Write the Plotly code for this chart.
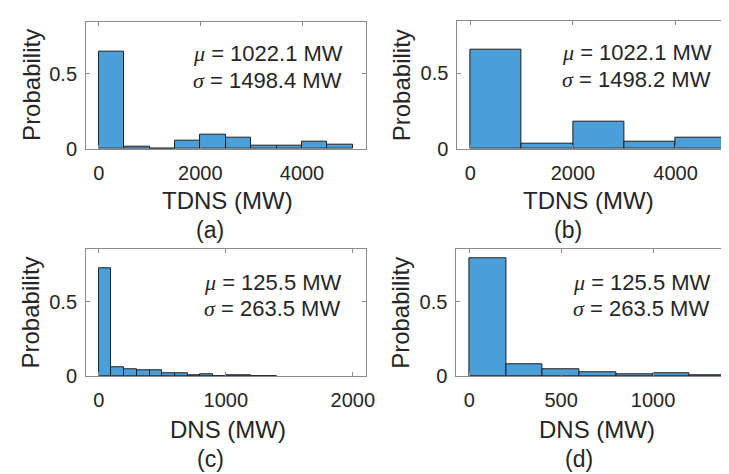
import plotly.graph_objects as go

W, H = 729, 474

# ---------------- data ----------------
tdns_a_edges = [0, 500, 1000, 1500, 2000, 2500, 3000, 3500, 4000, 4500, 5000]
tdns_a_prob = [0.649, 0.015, 0.002, 0.052, 0.095, 0.076, 0.017, 0.022, 0.045, 0.030]

tdns_b_edges = [0, 1000, 2000, 3000, 4000, 5000]
tdns_b_prob = [0.655, 0.032, 0.177, 0.045, 0.070]

dns_c_edges = [0, 100, 200, 300, 400, 500, 600, 700, 800, 900, 1000, 1100, 1200, 1300, 1400]
dns_c_prob = [0.723, 0.058, 0.048, 0.039, 0.039, 0.017, 0.017, 0.004, 0.011, 0.002, 0.009, 0.006, 0.002, 0.002]

dns_d_edges = [0, 200, 400, 600, 800, 1000, 1200, 1400]
dns_d_prob = [0.792, 0.082, 0.048, 0.024, 0.013, 0.017, 0.006]

stats_mu = ["1022.1", "1022.1", "125.5", "125.5"]
stats_sigma = ["1498.4", "1498.2", "263.5", "263.5"]
x_titles = ["TDNS (MW)", "TDNS (MW)", "DNS (MW)", "DNS (MW)"]
panel_labels = ["(a)", "(b)", "(c)", "(d)"]
x_tickvals = [[0, 2000, 4000], [0, 2000, 4000], [0, 1000, 2000], [0, 500, 1000]]
y_tickvals = [0, 0.5]

# ---------------- style ----------------
BAR = "#4a9fd9"
EDGE = "#1f1f1f"
AXC = "#8c8c8c"
TXT = "#262626"
FONT = "Liberation Sans, Arial, sans-serif"


def px_x(p):
    return p / W


def px_y(p):
    return 1 - p / H


# panel geometry in pixels: (left, right, top, bottom) and x ranges
panels = [
    dict(l=79, r=362, t=14, b=144, xr=[-250, 5250]),
    dict(l=455, r=729, t=13, b=144, xr=[-250, 5020]),
    dict(l=79, r=362, t=247, b=377, xr=[-100, 2100]),
    dict(l=454, r=729, t=247, b=377, xr=[-70, 1408]),
]

data_sets = [
    (tdns_a_edges, tdns_a_prob),
    (tdns_b_edges, tdns_b_prob),
    (dns_c_edges, dns_c_prob),
    (dns_d_edges, dns_d_prob),
]

fig = go.Figure()
layout = dict(
    width=W, height=H,
    margin=dict(l=0, r=0, t=0, b=0),
    paper_bgcolor="white", plot_bgcolor="white",
    showlegend=False,
    font=dict(family=FONT, color=TXT, size=20),
    bargap=0,
)

for i, ((edges, prob), pg) in enumerate(zip(data_sets, panels)):
    n = i + 1
    xa = "x" if n == 1 else f"x{n}"
    ya = "y" if n == 1 else f"y{n}"
    centers = [(edges[k] + edges[k + 1]) / 2 for k in range(len(prob))]
    widths = [edges[k + 1] - edges[k] for k in range(len(prob))]
    fig.add_trace(go.Bar(
        x=centers, y=prob, width=widths,
        marker=dict(color=BAR, line=dict(color=EDGE, width=1)),
        xaxis=xa, yaxis=ya, hoverinfo="skip",
    ))
    cropped = pg["r"] >= W
    layout["xaxis" if n == 1 else f"xaxis{n}"] = dict(
        domain=[px_x(pg["l"]), px_x(pg["r"])],
        range=pg["xr"], anchor=ya,
        tickvals=x_tickvals[i],
        ticktext=[str(v) for v in x_tickvals[i]],
        ticks="inside", ticklen=4, tickcolor=AXC,
        showline=True, linecolor=AXC, linewidth=1,
        mirror="ticks", showgrid=False, zeroline=False,
        tickfont=dict(size=20, color=TXT),
        ticklabelstandoff=6,
    )
    layout["yaxis" if n == 1 else f"yaxis{n}"] = dict(
        domain=[px_y(pg["b"]), px_y(pg["t"])],
        range=[0, 0.85], anchor=xa,
        tickvals=y_tickvals, ticktext=["0", "0.5"],
        ticks="inside", ticklen=4, tickcolor=AXC,
        showline=True, linecolor=AXC, linewidth=1,
        mirror=False if cropped else "ticks",
        showgrid=False, zeroline=False,
        tickfont=dict(size=20, color=TXT),
        ticklabelstandoff=4,
    )

fig.update_layout(**layout)

# ---------------- text annotations ----------------
ylabel_pos = [(23, 79), (398, 79), (23, 312), (398, 312)]
xlabel_pos = [(222, 197), (588, 197), (223, 432), (596, 432)]
plabel_pos = [(205, 227), (567, 227), (205, 462), (578, 462)]
stat_pos = [(185, 47, 74), (559, 46, 73), (196, 281, 308), (570, 281, 308)]

GREEK = "<span style='font-family:Liberation Serif, Times New Roman, serif'><i>%s</i></span>"

for i in range(4):
    x, y = ylabel_pos[i]
    fig.add_annotation(x=px_x(x), y=px_y(y), xref="paper", yref="paper",
                       text="Probability", textangle=-90, showarrow=False,
                       xanchor="center", yanchor="middle",
                       font=dict(size=24, color=TXT, family=FONT))
    x, y = xlabel_pos[i]
    fig.add_annotation(x=px_x(x), y=px_y(y), xref="paper", yref="paper",
                       text=x_titles[i], showarrow=False,
                       xanchor="center", yanchor="middle",
                       font=dict(size=24, color=TXT, family=FONT))
    x, y = plabel_pos[i]
    fig.add_annotation(x=px_x(x), y=px_y(y), xref="paper", yref="paper",
                       text=panel_labels[i], showarrow=False,
                       xanchor="center", yanchor="middle",
                       font=dict(size=23, color=TXT, family=FONT))
    x, y1, y2 = stat_pos[i]
    fig.add_annotation(x=px_x(x), y=px_y(y1), xref="paper", yref="paper",
                       text=(GREEK % "μ") + " = " + stats_mu[i] + " MW",
                       showarrow=False, xanchor="left", yanchor="middle",
                       font=dict(size=22, color=TXT, family=FONT))
    fig.add_annotation(x=px_x(x), y=px_y(y2), xref="paper", yref="paper",
                       text=(GREEK % "σ") + " = " + stats_sigma[i] + " MW",
                       showarrow=False, xanchor="left", yanchor="middle",
                       font=dict(size=22, color=TXT, family=FONT))

fig.write_html("out.html", config={"displayModeBar": False})
